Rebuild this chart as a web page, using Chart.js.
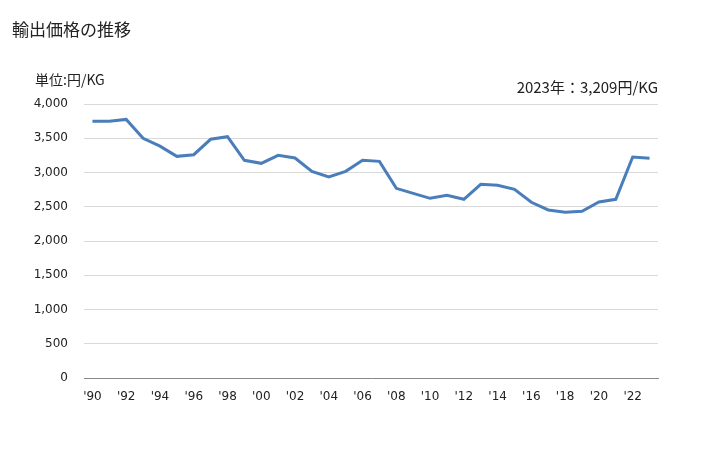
<!DOCTYPE html>
<html>
<head>
<meta charset="utf-8">
<script src="https://cdn.jsdelivr.net/npm/chart.js@4"></script>
<style>
  body { margin: 0; background: #fff; }
  #wrap { position: relative; width: 728px; height: 450px; }
  #chart { position: absolute; left: 0; top: 0; }
  .txt { position: absolute; color: #222; font-family: "Noto Sans CJK JP", sans-serif; white-space: nowrap; }
  #title { left: 12px; top: 16px; font-size: 17px; }
  #unit { left: 35px; top: 69px; font-size: 14px; }
  #latest { right: 70px; top: 76px; font-size: 15px; }
</style>
</head>
<body>
<div id="wrap">
  <canvas id="chart" width="728" height="450"></canvas>
  <div class="txt" id="title">輸出価格の推移</div>
  <div class="txt" id="unit">単位:円/KG</div>
  <div class="txt" id="latest">2023年：3,209円/KG</div>
</div>
<script>
// ===== Data =====
const years = [1990, 1991, 1992, 1993, 1994, 1995, 1996, 1997, 1998, 1999,
  2000, 2001, 2002, 2003, 2004, 2005, 2006, 2007, 2008, 2009,
  2010, 2011, 2012, 2013, 2014, 2015, 2016, 2017, 2018, 2019,
  2020, 2021, 2022, 2023];
const prices = [3750, 3750, 3775, 3500, 3385, 3236, 3260, 3485, 3523, 3178,
  3134, 3251, 3212, 3017, 2934, 3017, 3178, 3163, 2769, 2696,
  2623, 2667, 2609, 2828, 2813, 2755, 2565, 2453, 2419, 2434,
  2569, 2609, 3226, 3209];
const yTicks = [0, 500, 1000, 1500, 2000, 2500, 3000, 3500, 4000];

const labels = years.map(y => "'" + String(y).slice(2));

new Chart(document.getElementById("chart"), {
  type: "line",
  data: {
    labels: labels,
    datasets: [{
      data: prices,
      borderColor: "#4a7ebb",
      borderWidth: 3,
      pointRadius: 0,
      tension: 0,
      fill: false
    }]
  },
  options: {
    responsive: false,
    animation: false,
    layout: { padding: { top: 104, right: 70, bottom: 0, left: 0 } },
    plugins: { legend: { display: false }, tooltip: { enabled: false } },
    scales: {
      x: {
        offset: true,
        grid: { display: false, drawTicks: false },
        border: { color: "#888", width: 1 },
        ticks: {
          color: "#222",
          font: { family: "DejaVu Sans", size: 12 },
          padding: 12,
          maxRotation: 0,
          autoSkip: false,
          callback: function (v, i) { return i % 2 === 0 ? labels[i] : ""; }
        },
        afterFit: function (s) { s.height = 72; }
      },
      y: {
        min: 0,
        max: 4000,
        afterBuildTicks: function (s) { s.ticks = yTicks.map(v => ({ value: v })); },
        grid: { color: "#d9d9d9", drawTicks: false },
        border: { display: false },
        ticks: {
          color: "#222",
          font: { family: "DejaVu Sans", size: 12 },
          padding: 16,
          callback: v => v.toLocaleString("en-US")
        },
        afterFit: function (s) { s.width = 84; }
      }
    }
  }
});
</script>
</body>
</html>
